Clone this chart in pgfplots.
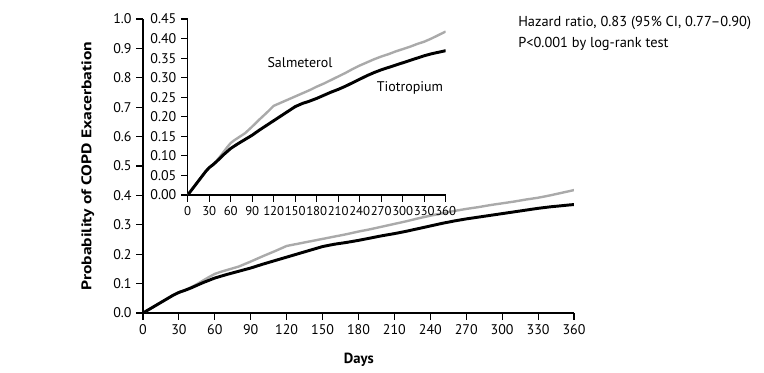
\documentclass[border=0pt]{standalone}
\usepackage{fontspec}
\setmainfont{PT Sans}
\newfontfamily\ylabfont[FakeStretch=1.25, BoldFont={PT Sans Bold}]{PT Sans}
\usepackage{pgfplots}
\pgfplotsset{compat=1.18}
\definecolor{salm}{RGB}{170,170,170}
\begin{document}
\pgfplotstableread{
x y
0 0
5 0.012
10 0.024
15 0.036
20 0.048
25 0.060
30 0.070
35 0.078
40 0.087
45 0.098
50 0.110
55 0.122
60 0.133
65 0.140
70 0.146
80 0.158
90 0.175
100 0.193
110 0.210
120 0.228
130 0.236
140 0.244
150 0.252
160 0.260
170 0.268
180 0.277
190 0.285
200 0.294
210 0.303
220 0.312
230 0.322
240 0.331
250 0.339
260 0.347
270 0.354
280 0.360
290 0.367
300 0.373
310 0.379
320 0.386
330 0.392
340 0.400
350 0.409
360 0.418
}\salmeterol
\pgfplotstableread{
x y
0 0
5 0.012
10 0.024
15 0.036
20 0.048
25 0.060
30 0.070
35 0.077
40 0.085
45 0.094
50 0.103
55 0.111
60 0.119
70 0.131
80 0.142
90 0.153
100 0.166
110 0.178
120 0.190
130 0.202
140 0.214
150 0.226
160 0.234
170 0.240
180 0.247
190 0.255
200 0.263
210 0.270
220 0.278
230 0.287
240 0.296
250 0.305
260 0.313
270 0.320
280 0.326
290 0.332
300 0.338
310 0.344
320 0.350
330 0.356
340 0.361
350 0.365
360 0.369
}\tiotropium
\begin{tikzpicture}
\path[use as bounding box] (0,0) rectangle (573pt,279.75pt);
\pgfplotsset{
  kmstyle/.style={
    scale only axis,
    axis x line*=bottom, axis y line*=left,
    axis line style={-, line width=0.8pt},
    tick style={line width=0.8pt, black},
    tick align=outside,
    major tick length=5pt,
    xmin=0, xmax=360,
    xtick={0,30,...,360},
    /pgf/number format/assume math mode=true,
    tick label style={font=\fontsize{10.5}{12}\selectfont},
  }
}
% main axis
\begin{axis}[kmstyle,
  at={(107.25pt,45pt)}, anchor=south west,
  width=323.25pt, height=220.5pt,
  ymin=0, ymax=1,
  ytick={0,0.1,...,1.0},
  yticklabel style={/pgf/number format/.cd, fixed, fixed zerofill, precision=1},
  xlabel={\textbf{Days}},
  ylabel={\ylabfont\bfseries Probability of COPD Exacerbation},
  xlabel style={font=\fontsize{11}{12}\selectfont, at={(axis description cs:0.501,-0.16)}, anchor=center},
  ylabel style={font=\fontsize{10.5}{12}\selectfont, at={(axis description cs:-0.128,0.5)}, anchor=center},
]
\addplot[salm, line width=1.8pt] table {\salmeterol};
\addplot[black, line width=2.2pt] table {\tiotropium};
\end{axis}
% inset
\begin{axis}[kmstyle,
  at={(140.8pt,133.5pt)}, anchor=south west,
  width=193.5pt, height=132pt,
  ymin=0, ymax=0.45,
  ytick={0,0.05,...,0.46},
  yticklabel style={/pgf/number format/.cd, fixed, fixed zerofill, precision=2},
  xticklabel style={inner xsep=0pt, font=\fontsize{9.6}{11}\selectfont},
]
\addplot[salm, line width=1.8pt] table {\salmeterol};
\addplot[black, line width=2.2pt] table {\tiotropium};
\node[font=\fontsize{10.5}{12}\selectfont] at (axis cs:156.7,0.3376) {Salmeterol};
\node[font=\fontsize{10.5}{12}\selectfont] at (axis cs:310,0.274) {Tiotropium};
\end{axis}
\node[anchor=west, inner sep=0pt, font=\fontsize{10.8}{12}\selectfont] at (388.5pt,262.5pt) {Hazard ratio, 0.83 (95\% CI, 0.77--0.90)};
\node[anchor=west, inner sep=0pt, font=\fontsize{10.8}{12}\selectfont] at (388.5pt,246.75pt) {P<0.001 by log-rank test};
\end{tikzpicture}
\end{document}
